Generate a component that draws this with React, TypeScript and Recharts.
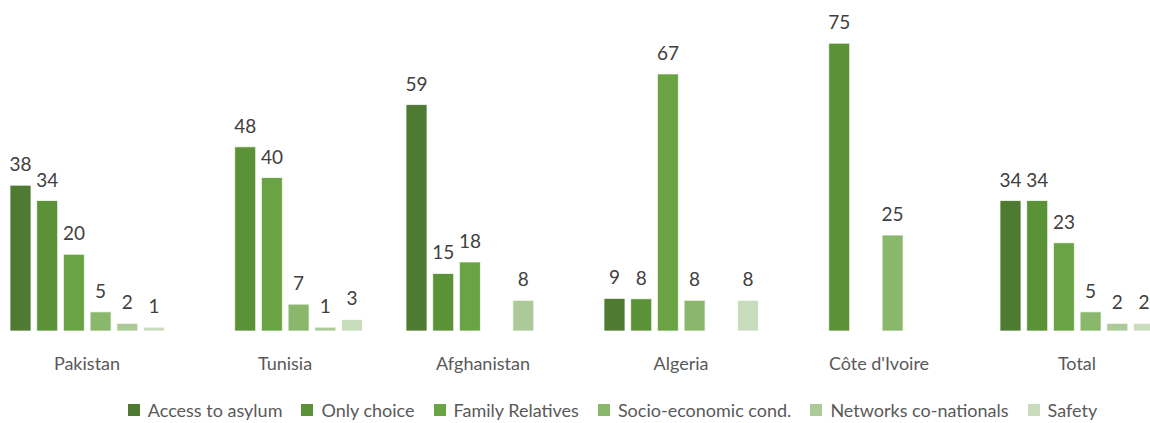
import React from 'react';
import { BarChart, Bar, XAxis, YAxis, LabelList, Legend } from 'recharts';

const categories = ['Pakistan', 'Tunisia', 'Afghanistan', 'Algeria', "Côte d'Ivoire", 'Total'];
const accessToAsylum = [38, null, 59, 8.5, null, 34];
const onlyChoice = [34, 48, 15, 8.4, 75, 34];
const familyRelatives = [20, 40, 18, 67, null, 23];
const socioEconomic = [5, 7, null, 8, 25, 5];
const networksCoNationals = [2, 1, 8, null, null, 2];
const safety = [1, 3, null, 8, null, 2];

const seriesNames = [
  'Access to asylum',
  'Only choice',
  'Family Relatives',
  'Socio-economic cond.',
  'Networks co-nationals',
  'Safety',
];
const seriesKeys = ['access', 'only', 'family', 'socio', 'networks', 'safety'];
const seriesColors = ['#4E7A31', '#5B9238', '#6AA343', '#89B76C', '#ABCA98', '#C9DCBE'];
const seriesValues = [accessToAsylum, onlyChoice, familyRelatives, socioEconomic, networksCoNationals, safety];

const data = categories.map((name, i) => {
  const row: Record<string, any> = { name };
  seriesKeys.forEach((k, s) => {
    row[k] = seriesValues[s][i];
  });
  return row;
});

const FONT = 'Lato, sans-serif';

const renderLegend = () => (
  <div
    style={{
      display: 'flex',
      justifyContent: 'center',
      alignItems: 'center',
      fontFamily: FONT,
      fontSize: 18,
      color: '#595959',
      paddingLeft: 75,
    }}
  >
    {seriesNames.map((n, i) => (
      <div key={n} style={{ display: 'flex', alignItems: 'center', marginRight: i < seriesNames.length - 1 ? 19 : 0 }}>
        <span style={{ display: 'inline-block', width: 12, height: 12, background: seriesColors[i], marginRight: 8 }} />
        <span>{n}</span>
      </div>
    ))}
  </div>
);

const fmt = (v: any) => (v == null ? '' : String(Math.round(Number(v))));

export default function App() {
  return (
    <div style={{ position: 'absolute', left: 0, top: 0, width: 1150, height: 423, overflow: 'hidden', background: '#fff' }}>
      <BarChart
        width={1150}
        height={423}
        data={data}
        margin={{ top: 24, right: -26, bottom: 62, left: -12 }}
        barSize={21}
        barGap={5.7}
      >
        <XAxis
          dataKey="name"
          axisLine={false}
          tickLine={false}
          height={30}
          tickMargin={20}
          tick={{ fill: '#595959', fontSize: 18, fontFamily: FONT }}
          interval={0}
        />
        <YAxis hide domain={[0, 80]} />
        <Legend
          layout="horizontal"
          verticalAlign="middle"
          align="center"
          wrapperStyle={{ top: 399, left: 0, width: 1150 }}
          content={renderLegend}
        />
        {seriesKeys.map((k, s) => (
          <Bar
            key={k}
            dataKey={k}
            name={seriesNames[s]}
            fill={seriesColors[s]}
            stroke="#ffffff"
            strokeWidth={0.75}
            isAnimationActive={false}
          >
            <LabelList
              dataKey={k}
              position="top"
              offset={14}
              formatter={fmt}
              style={{ fill: '#404040', fontSize: 19, fontFamily: FONT }}
            />
          </Bar>
        ))}
      </BarChart>
    </div>
  );
}
